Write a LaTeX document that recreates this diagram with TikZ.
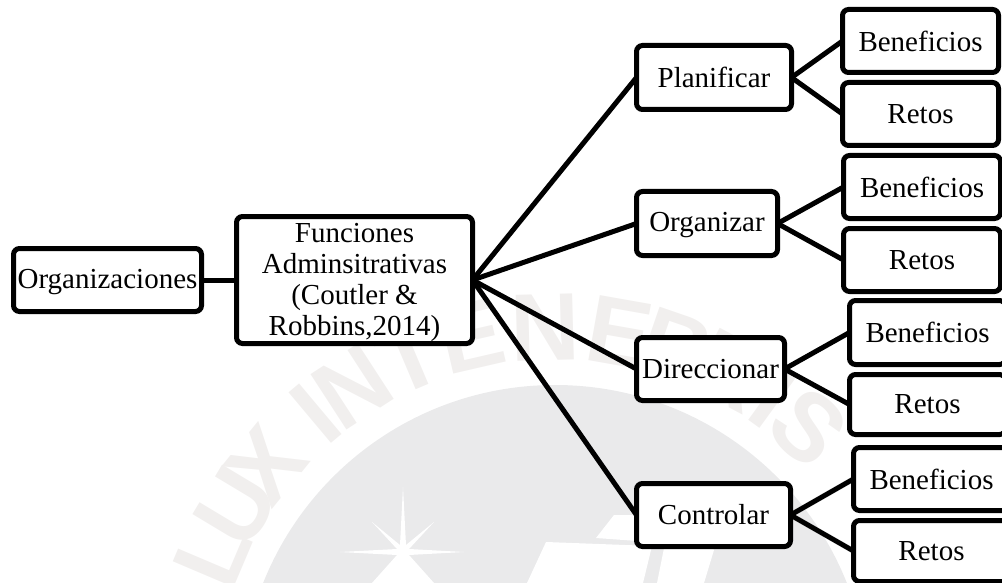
\documentclass[tikz,border=0pt]{standalone}
\usepackage{fontspec}
\setmainfont{Liberation Serif}
\newfontfamily\wmfont{Liberation Sans}
\usetikzlibrary{calc}
\definecolor{wmdisc}{HTML}{EAEAEB}
\definecolor{wmtext}{HTML}{F1EFEE}
\tikzset{
  box/.style={draw=black,line width=5pt,rounded corners=6pt,fill=white,inner sep=0pt,outer sep=0pt,align=center,font=\fontsize{29}{31}\selectfont,anchor=north west},
  link/.style={draw=black,line width=5pt},
  wmletter/.style={text=wmtext,font=\wmfont\bfseries\fontsize{96}{96}\selectfont,inner sep=0pt}
}
\newcommand{\wml}[3]{\node[wmletter,rotate=#1-90] (wm#3) at ($(555,-699)+(#1:372)$) {#2};}
\begin{document}
\begin{tikzpicture}[x=1pt,y=1pt]
\useasboundingbox (0,0) rectangle (1002,-583);
\begin{scope}
\clip (0,0) rectangle (1002,-583);
\fill[wmdisc] (555,-699) circle (314);
\wml{157}{L}{a}\wml{149}{U}{b}\wml{141}{X}{c}\wml{130}{I}{d}\wml{123}{N}{e}
\wml{113}{T}{f}\wml{103}{E}{g}\wml{91.5}{N}{h}\wml{80}{E}{i}\wml{71}{B}{j}\wml{62}{R}{k}\wml{54}{I}{l}\wml{47}{S}{m}
\fill[white] (403,-487) -- (406,-545) -- (434,-522) -- (409,-549) -- (464,-552) -- (409,-555) -- (434,-583) -- (372,-583) -- (397,-555) -- (340,-552) -- (397,-549) -- (372,-522) -- (400,-545) -- cycle;
\fill[white] (546,-542) -- (652,-546) -- (643,-583) -- (527,-583) -- cycle;
\fill[white] (596,-538) -- (614,-515) -- (680,-515) -- (714,-550) -- (704,-583) -- (657,-583) -- (665,-543) -- cycle;
\end{scope}
\node[box,minimum width=188pt,minimum height=63pt] (org) at (13.5,-248.5) {\rule{0pt}{24pt}Organizaciones};
\node[box,minimum width=236pt,minimum height=127pt] (fun) at (236.5,-216.5) {\rule{0pt}{24pt}Funciones\\Adminsitrativas\\(Coutler \&\\Robbins,2014)};
\node[box,minimum width=155pt,minimum height=64pt] (pla) at (636.5,-45.5) {Planificar};
\node[box,minimum width=141pt,minimum height=64pt] (orz) at (636.5,-191.5) {\rule{0pt}{23pt}Organizar};
\node[box,minimum width=148pt,minimum height=63pt] (dir) at (636.5,-337.5) {Direccionar};
\node[box,minimum width=154pt,minimum height=63pt] (con) at (636.5,-483.5) {Controlar};
\node[box,minimum width=156pt,minimum height=63pt] (b1) at (842.5,-9.5) {Beneficios};
\node[box,minimum width=156pt,minimum height=63pt] (r1) at (842.5,-82.5) {Retos};
\node[box,minimum width=157pt,minimum height=63pt] (b2) at (843.5,-155.5) {Beneficios};
\node[box,minimum width=157pt,minimum height=63pt] (r2) at (843.5,-228.5) {Retos};
\node[box,minimum width=156pt,minimum height=64pt] (b3) at (849.5,-300.5) {Beneficios};
\node[box,minimum width=156pt,minimum height=60pt] (r3) at (849.5,-374.5) {Retos};
\node[box,minimum width=156pt,minimum height=63pt] (b4) at (853.5,-447.5) {Beneficios};
\node[box,minimum width=156pt,minimum height=61pt] (r4) at (853.5,-520.5) {Retos};
\draw[link] (org.east) -- (fun.west);
\foreach \t in {pla,orz,dir,con} \draw[link] (fun.east) -- (\t.west);
\draw[link] (pla.east) -- (b1.west);
\draw[link] (pla.east) -- (r1.west);
\draw[link] (orz.east) -- (b2.west);
\draw[link] (orz.east) -- (r2.west);
\draw[link] (dir.east) -- (b3.west);
\draw[link] (dir.east) -- (r3.west);
\draw[link] (con.east) -- (b4.west);
\draw[link] (con.east) -- (r4.west);
\end{tikzpicture}
\end{document}
